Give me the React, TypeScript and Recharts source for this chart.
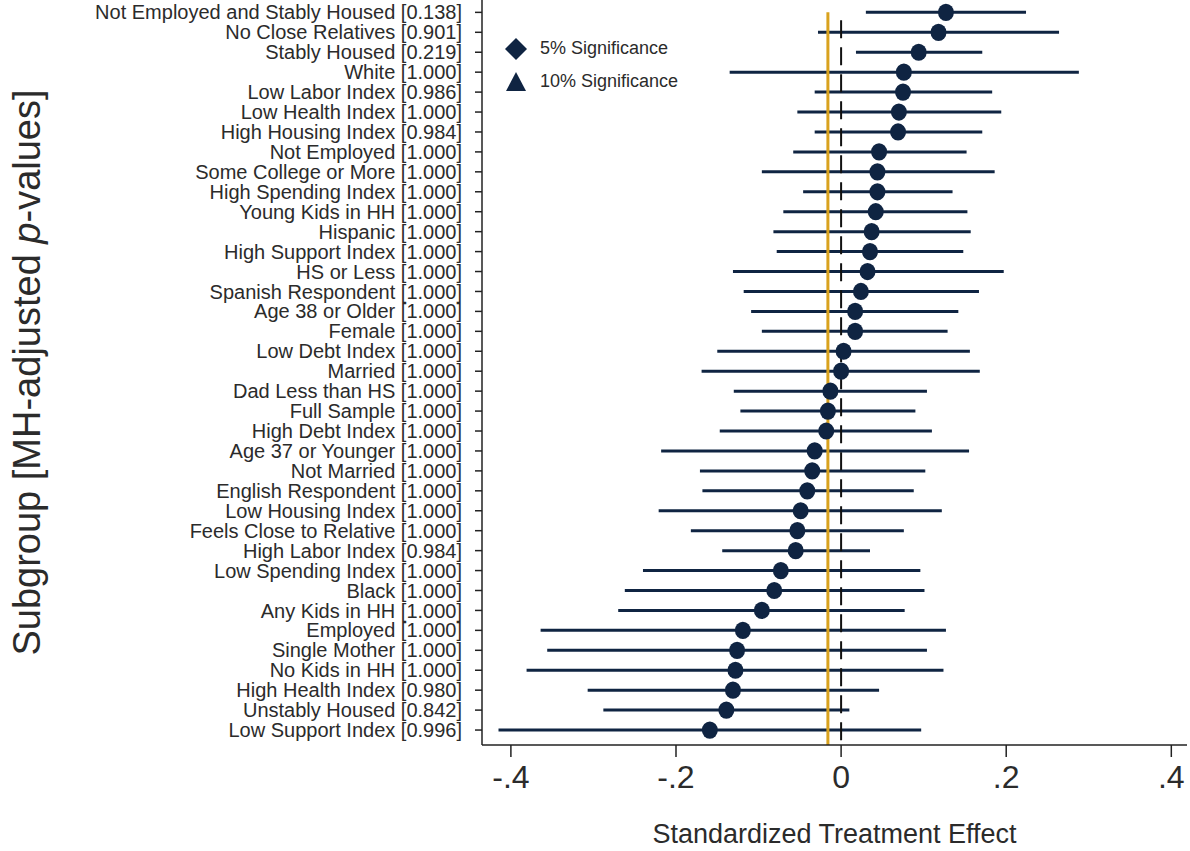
import {
  ScatterChart,
  Scatter,
  XAxis,
  YAxis,
  ErrorBar,
  ReferenceLine,
} from "recharts";

const subgroups = [
  "Not Employed and Stably Housed",
  "No Close Relatives",
  "Stably Housed",
  "White",
  "Low Labor Index",
  "Low Health Index",
  "High Housing Index",
  "Not Employed",
  "Some College or More",
  "High Spending Index",
  "Young Kids in HH",
  "Hispanic",
  "High Support Index",
  "HS or Less",
  "Spanish Respondent",
  "Age 38 or Older",
  "Female",
  "Low Debt Index",
  "Married",
  "Dad Less than HS",
  "Full Sample",
  "High Debt Index",
  "Age 37 or Younger",
  "Not Married",
  "English Respondent",
  "Low Housing Index",
  "Feels Close to Relative",
  "High Labor Index",
  "Low Spending Index",
  "Black",
  "Any Kids in HH",
  "Employed",
  "Single Mother",
  "No Kids in HH",
  "High Health Index",
  "Unstably Housed",
  "Low Support Index",
];

const pValues = [
  "0.138", "0.901", "0.219", "1.000", "0.986", "1.000", "0.984", "1.000",
  "1.000", "1.000", "1.000", "1.000", "1.000", "1.000", "1.000", "1.000",
  "1.000", "1.000", "1.000", "1.000", "1.000", "1.000", "1.000", "1.000",
  "1.000", "1.000", "1.000", "0.984", "1.000", "1.000", "1.000", "1.000",
  "1.000", "1.000", "0.980", "0.842", "0.996",
];

const estimates = [
  0.127, 0.118, 0.094, 0.076, 0.075, 0.070, 0.069, 0.046, 0.044, 0.044,
  0.042, 0.037, 0.035, 0.032, 0.024, 0.017, 0.017, 0.003, 0.0, -0.013,
  -0.016, -0.018, -0.032, -0.035, -0.041, -0.049, -0.053, -0.055, -0.073,
  -0.081, -0.096, -0.119, -0.126, -0.128, -0.131, -0.139, -0.159,
];

const lowerCI = [
  0.030, -0.028, 0.018, -0.135, -0.032, -0.053, -0.032, -0.058, -0.096, -0.046,
  -0.070, -0.082, -0.078, -0.131, -0.118, -0.109, -0.096, -0.150, -0.169, -0.130,
  -0.122, -0.147, -0.218, -0.171, -0.168, -0.221, -0.182, -0.144, -0.240,
  -0.262, -0.270, -0.364, -0.356, -0.381, -0.307, -0.288, -0.415,
];

const upperCI = [
  0.224, 0.264, 0.171, 0.288, 0.183, 0.194, 0.171, 0.152, 0.186, 0.135,
  0.153, 0.157, 0.148, 0.197, 0.167, 0.142, 0.129, 0.156, 0.168, 0.104,
  0.090, 0.110, 0.155, 0.102, 0.088, 0.122, 0.076, 0.035, 0.096,
  0.101, 0.077, 0.127, 0.104, 0.124, 0.046, 0.010, 0.097,
];

const fullSampleEffect = -0.016;
const xTicks = [-0.4, -0.2, 0, 0.2, 0.4];

const NAVY = "#0f2442";
const GOLD = "#d9a21e";
const INK = "#2b2b2b";
const FONT = "'Liberation Sans', Arial, sans-serif";

const rows = subgroups.map((name, i) => ({
  idx: i,
  est: estimates[i],
  err: [estimates[i] - lowerCI[i], upperCI[i] - estimates[i]],
}));

const fmtX = (v: number) =>
  v === 0 ? "0" : String(v).replace("0.", ".");

export default function App() {
  return (
    <div style={{ position: "absolute", left: 0, top: 0, fontFamily: FONT }}>
      <ScatterChart
        width={1190}
        height={851}
        margin={{ top: 0, right: 3, bottom: 0, left: 0 }}
      >
        <XAxis
          type="number"
          dataKey="est"
          domain={[-0.435, 0.419]}
          ticks={xTicks}
          tickFormatter={fmtX}
          tickSize={12}
          tickMargin={8}
          height={106}
          axisLine={{ stroke: "#222", strokeWidth: 1.5 }}
          tickLine={{ stroke: "#222", strokeWidth: 1.5 }}
          tick={{ fontSize: 32, fill: INK, fontFamily: FONT }}
          label={(props: any) => {
            const vb = props.viewBox;
            return (
              <text
                x={vb.x + vb.width / 2}
                y={843}
                textAnchor="middle"
                fontSize={27}
                fill={INK}
                fontFamily={FONT}
              >
                Standardized Treatment Effect
              </text>
            );
          }}
        />
        <YAxis
          type="number"
          dataKey="idx"
          reversed
          domain={[-0.62, 36.75]}
          ticks={subgroups.map((_, i) => i)}
          interval={0}
          tickFormatter={(i: number) => `${subgroups[i]} [${pValues[i]}]`}
          width={482}
          tickSize={7}
          tickMargin={13}
          axisLine={{ stroke: "#222", strokeWidth: 1.5 }}
          tickLine={{ stroke: "#222", strokeWidth: 1.5 }}
          tick={{ fontSize: 20, fill: INK, fontFamily: FONT }}
          label={(props: any) => {
            const vb = props.viewBox;
            const cy = vb.y + vb.height / 2;
            return (
              <text
                x={40}
                y={cy}
                transform={`rotate(-90, 40, ${cy})`}
                textAnchor="middle"
                fontSize={38}
                fill={INK}
                fontFamily={FONT}
              >
                Subgroup [MH-adjusted <tspan fontStyle="italic">p</tspan>-values]
              </text>
            );
          }}
        />

        {/* confidence intervals, drawn under the reference lines */}
        <Scatter
          data={rows}
          isAnimationActive={false}
          shape={() => <g />}
        >
          <ErrorBar
            dataKey="err"
            direction="x"
            width={0}
            stroke={NAVY}
            strokeWidth={3}
            isAnimationActive={false}
          />
        </Scatter>

        <ReferenceLine
          segment={[
            { x: 0, y: 0.4 },
            { x: 0, y: 36.75 },
          ]}
          stroke="#111"
          strokeWidth={2}
          strokeDasharray="18 9"
        />
        <ReferenceLine
          segment={[
            { x: fullSampleEffect, y: 0 },
            { x: fullSampleEffect, y: 36.75 },
          ]}
          stroke={GOLD}
          strokeWidth={3}
        />

        <Scatter
          data={rows}
          isAnimationActive={false}
          shape={(p: any) => (
            <ellipse cx={p.cx} cy={p.cy} rx={8} ry={8.6} fill={NAVY} />
          )}
        />
      </ScatterChart>

      {/* legend */}
      <div
        style={{
          position: "absolute",
          left: 504,
          top: 32,
          fontSize: 18,
          color: INK,
          lineHeight: "33px",
        }}
      >
        <div style={{ display: "flex", alignItems: "center" }}>
          <svg width={24} height={24} style={{ marginRight: 12 }}>
            <polygon points="12,1 23,12 12,23 1,12" fill={NAVY} />
          </svg>
          5% Significance
        </div>
        <div style={{ display: "flex", alignItems: "center" }}>
          <svg width={24} height={24} style={{ marginRight: 12 }}>
            <polygon points="12,2 22,21 2,21" fill={NAVY} />
          </svg>
          10% Significance
        </div>
      </div>
    </div>
  );
}
